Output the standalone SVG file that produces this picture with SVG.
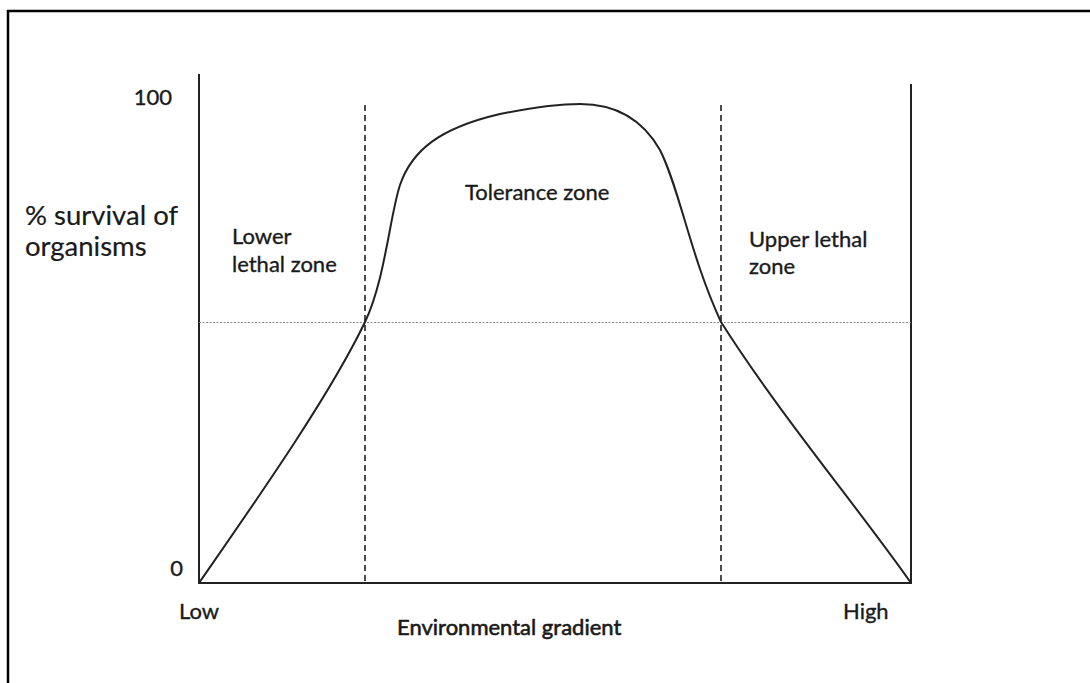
<svg xmlns="http://www.w3.org/2000/svg" width="1090" height="683" viewBox="0 0 1090 683">
<style>
text{font-family:Lato,"Open Sans",sans-serif;fill:#1a1a1a;stroke:#1a1a1a;stroke-width:0.35}
.s{font-size:22px}
.l{font-size:27.5px;stroke-width:0.2}
.b{font-size:22px;stroke-width:0.6}
.axis{stroke:#222;stroke-width:2;fill:none}
.dash{stroke:#111;stroke-width:1.5;stroke-dasharray:6,4;fill:none}
.dot{stroke:#888;stroke-width:1;stroke-dasharray:2,1.5;fill:none}
</style>
<rect width="1090" height="683" fill="#fff"/>
<g id="frame"><path d="M8,683 V11 H1090" stroke="#000" stroke-width="2.5" fill="none"/></g>
<g id="axes">
<path class="axis" d="M199,74 V583 H911 V84"/>
</g>
<g id="guides">
<line class="dash" x1="365" y1="105" x2="365" y2="583"/>
<line class="dash" x1="721" y1="105" x2="721" y2="583"/>
<line class="dot" x1="199" y1="322.5" x2="911" y2="322.5"/>
</g>
<g id="curve">
<path d="M199,583 C260,495 330,395 365,322 C385,280 390,215 400,185 C412,150 440,128 500,114 C540,106 560,104 580,104 C610,104 640,115 660,150 C680,190 690,255 721,322 C780,415 860,510 911,583" fill="none" stroke="#222" stroke-width="2"/>
</g>
<g id="labels">
<text class="s" x="172" y="105" text-anchor="end">100</text>
<text class="s" x="183" y="576" text-anchor="end">0</text>
<text class="l" x="25" y="225">% survival of</text>
<text class="l" x="25" y="256">organisms</text>
<text class="s" x="232" y="244">Lower</text>
<text class="s" x="232" y="272">lethal zone</text>
<text class="s" x="465" y="200">Tolerance zone</text>
<text class="s" x="749" y="247">Upper lethal</text>
<text class="s" x="749" y="274">zone</text>
<text class="s" x="179" y="619">Low</text>
<text class="s" x="843" y="619">High</text>
<text class="b" x="397" y="635">Environmental gradient</text>
</g>
</svg>
